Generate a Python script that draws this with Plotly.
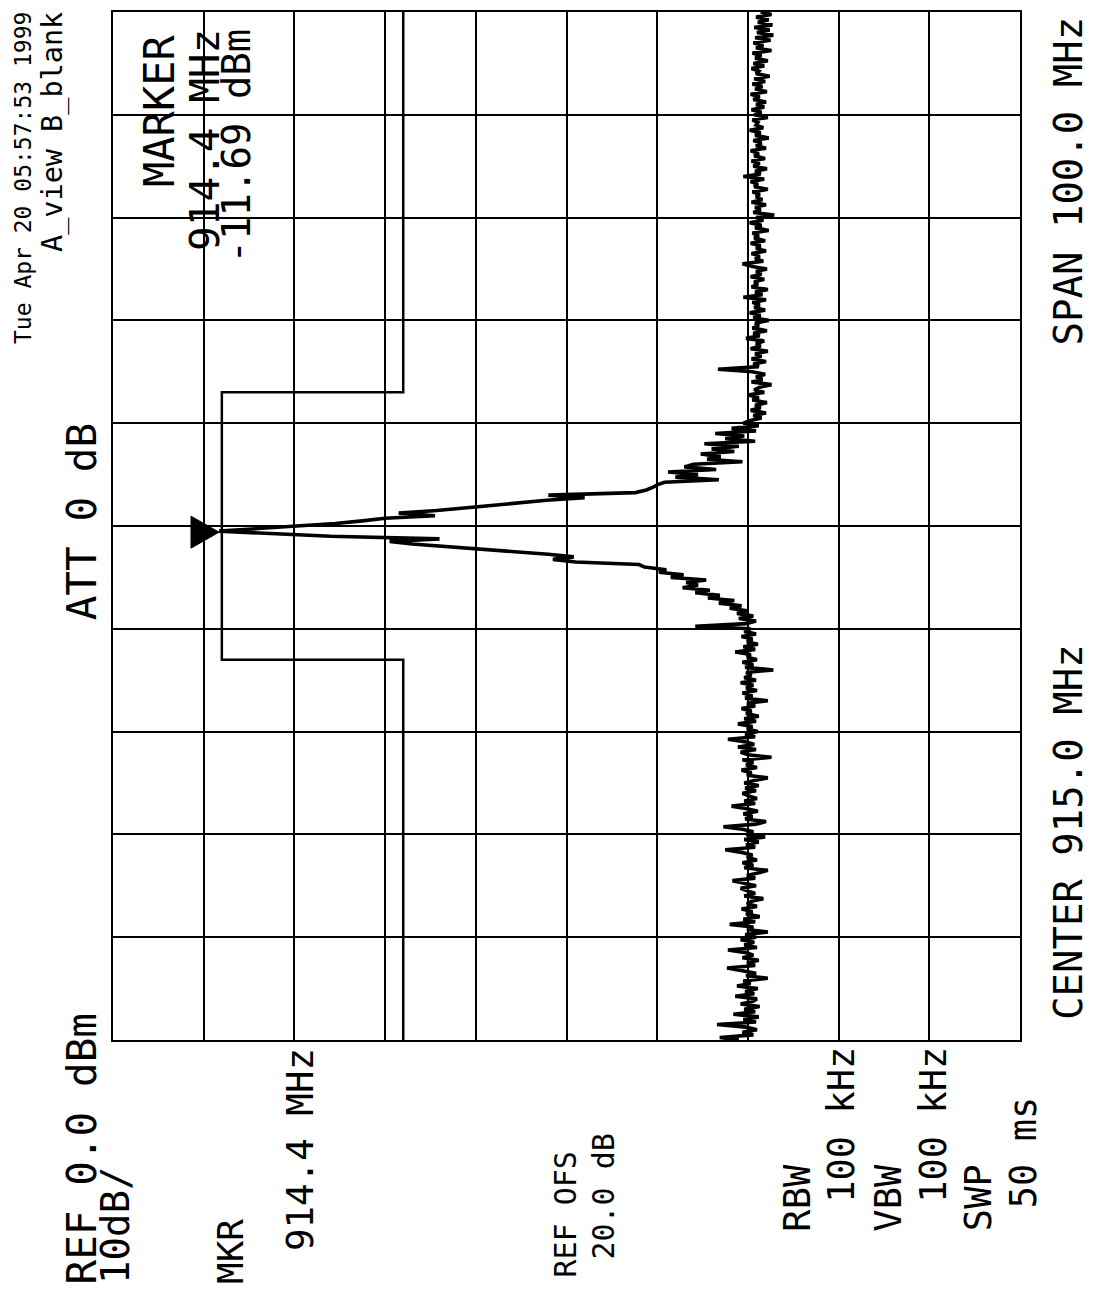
import numpy as np
import plotly.graph_objects as go

# ---------------- data ----------------
start_freq_mhz = 865.0
stop_freq_mhz = 965.0
center_freq_mhz = 915.0
ref_level_dbm = 0.0
bottom_level_dbm = -100.0

# trace amplitude (dBm), sweep points from 865 MHz to 965 MHz
trace_dbm = [
    # lower noise floor
    -69.0, -66.9, -70.6, -69.4, -71.0, -69.8, -66.6, -70.9, -69.5, -71.2,
    -68.4, -70.8, -69.6, -71.3, -69.2, -70.5, -71.0, -68.6, -70.7, -69.7,
    -71.1, -68.8, -70.3, -69.5, -72.2, -69.8, -70.9, -69.3, -67.7, -70.8,
    -69.9, -71.2, -69.4, -70.6, -69.8, -67.8, -71.0, -69.6, -70.7, -69.2,
    -70.9, -69.7, -72.2, -69.9, -70.6, -68.0, -70.8, -69.5, -71.3, -69.8,
    -70.5, -69.3, -71.0, -69.9, -70.4, -71.7, -69.6, -70.8, -70.0, -69.2,
    -70.9, -69.7, -68.3, -70.8, -69.9, -71.1, -72.2, -69.6, -70.6, -69.4,
    -71.0, -69.9, -70.5, -69.3, -67.5, -70.8, -69.8, -71.2, -69.6, -71.9,
    -69.8, -70.6, -69.4, -67.3, -70.9, -72.0, -69.7, -70.5, -69.5, -71.1,
    -69.9, -68.2, -70.8, -69.6, -71.0, -70.1, -69.4, -70.9, -69.7, -71.2,
    -69.6, -70.7, -72.2, -69.9, -70.4, -69.3, -71.0, -69.8, -70.6, -69.4,
    -72.6, -70.0, -69.2, -70.9, -68.9, -70.7, -69.8, -67.8, -70.8, -69.7,
    -71.1, -69.9, -70.5, -68.9, -70.9, -69.6, -71.2, -69.8, -70.4, -69.3,
    -70.8, -69.9, -72.2, -69.7, -70.5, -69.4, -71.0, -69.8, -70.6, -69.2,
    -70.9, -69.6, -70.4, -69.8, -72.8, -69.7, -70.6, -69.4, -71.0, -69.9,
    -70.3, -68.6, -70.8, -69.5, -71.1, -69.9, -70.5, -69.3, -70.9, -69.6,
    # lower skirt
    -70.3, -64.2, -69.8, -70.9, -69.0, -70.6, -68.8, -69.9, -68.0, -69.3,
    -66.8, -68.5, -65.6, -66.9, -64.2, -65.8, -62.8, -64.5, -63.2, -65.4,
    -61.5, -62.9, -60.2, -61.0, -58.6, -58.0, -51.0, -48.5, -50.8, -48.0,
    -44.0, -40.5, -36.2, -33.0, -30.5, -36.0, -24.0, -17.5, -11.7,
    # upper skirt
    -16.0, -20.5, -24.5, -27.5, -30.0, -35.5, -31.5, -35.7, -38.5, -41.5,
    -44.5, -47.8, -52.0, -48.0, -57.6, -58.8, -59.5, -60.0, -60.8, -66.8,
    -62.0, -64.5, -61.2, -66.5, -63.0, -64.0, -69.4, -65.5, -67.0, -64.8,
    -68.5, -66.0, -69.0, -65.2, -70.8, -67.5, -69.6, -66.4, -70.9, -68.2,
    -71.2, -69.5,
    # upper noise floor
    -70.2, -71.5, -70.6, -72.0, -70.3, -71.4, -70.8, -72.1, -70.5, -71.2,
    -70.0, -71.8, -70.7, -71.3, -72.6, -70.4, -71.6, -70.9, -71.9, -70.5,
    -66.7, -71.2, -70.6, -72.0, -70.4, -71.5, -70.8, -72.2, -70.3, -71.4,
    -70.9, -71.8, -69.8, -71.3, -70.6, -72.1, -70.5, -71.2, -70.8, -72.3,
    -70.6, -71.4, -70.2, -71.9, -70.7, -71.3, -70.5, -72.0, -69.5, -71.6,
    -70.8, -72.2, -70.4, -71.1, -70.7, -71.8, -70.3, -71.5, -70.9, -72.1,
    -70.5, -69.4, -71.7, -70.8, -71.3, -70.4, -72.0, -70.9, -71.4, -70.3,
    -71.9, -70.7, -71.2, -70.5, -72.3, -70.8, -71.5, -70.2, -71.7, -70.9,
    -72.9, -70.6, -71.4, -70.8, -72.0, -70.4, -71.6, -70.9, -71.3, -70.5,
    -72.2, -70.7, -71.1, -70.3, -71.8, -69.5, -71.4, -70.8, -72.1, -70.6,
    -71.3, -70.4, -71.9, -70.7, -71.2, -70.3, -72.0, -70.9, -71.5, -70.6,
    -72.3, -70.8, -71.4, -70.2, -71.7, -70.9, -71.1, -70.5, -72.2, -70.7,
    -71.5, -70.4, -71.8, -70.9, -72.0, -70.6, -71.3, -70.3, -72.1, -70.8,
    -71.6, -70.5, -71.9, -70.7, -72.4, -70.9, -71.2, -70.4, -71.8, -70.6,
    -72.2, -70.8, -71.5, -70.5, -72.6, -70.9, -71.7, -70.6, -72.5, -70.8,
    -72.8, -71.0, -72.4, -70.7, -72.7, -71.1, -72.3, -70.9, -72.6, -71.4,
]

# limit mask (ISM band 902-928 MHz)
mask_freq_mhz = [865.0, 902.0, 902.0, 928.0, 928.0, 965.0]
mask_level_dbm = [-32.0, -32.0, -12.0, -12.0, -32.0, -32.0]

marker_freq_mhz = 914.4
marker_level_dbm = -11.69

trace_freq_mhz = np.linspace(start_freq_mhz, stop_freq_mhz, len(trace_dbm))

# ---------------- figure ----------------
# page body has an 8 px margin; plot area sits at x 113..1020, y 10..1040 on screen
BODY = 8
PLOT_L, PLOT_T, PLOT_W, PLOT_H = 113, 10, 907, 1030
L, T = PLOT_L - BODY, PLOT_T - BODY
R, B = 82, 250
W, H = L + PLOT_W + R, T + PLOT_H + B


def px(x):
    return (x - PLOT_L) / PLOT_W


def py(y):
    return (PLOT_T + PLOT_H - y) / PLOT_H


fig = go.Figure()

fig.add_trace(go.Scatter(
    x=mask_level_dbm, y=mask_freq_mhz, mode="lines",
    line=dict(color="black", width=2.5), hoverinfo="skip"))

fig.add_trace(go.Scatter(
    x=trace_dbm, y=trace_freq_mhz, mode="lines",
    line=dict(color="black", width=3.6), hoverinfo="skip"))

# marker triangle: tip at the marker point
fig.add_shape(
    type="path", xref="x", yref="y",
    xsizemode="pixel", ysizemode="pixel",
    xanchor=marker_level_dbm, yanchor=marker_freq_mhz,
    path="M -28 -16 L 0 0 L -28 16 Z",
    fillcolor="black", line=dict(color="black", width=1))

axis_common = dict(showgrid=True, gridcolor="black", gridwidth=1.8,
                   showline=True, linecolor="black", linewidth=2.2, mirror=True,
                   showticklabels=False, ticks="", zeroline=False)

fig.update_xaxes(range=[ref_level_dbm, bottom_level_dbm], dtick=10, tick0=0, **axis_common)
fig.update_yaxes(range=[start_freq_mhz, stop_freq_mhz], dtick=10, tick0=start_freq_mhz, **axis_common)

FONT = "DejaVu Sans Mono"


def ann(text, xc, yp, anchor, size):
    fig.add_annotation(
        text=text, xref="paper", yref="paper", x=px(xc), y=py(yp),
        xanchor="center", yanchor=anchor, showarrow=False, textangle=-90,
        font=dict(family=FONT, size=size, color="black"), borderpad=0)


ann("Tue Apr 20 05:57:53 1999", 23, 9, "top", 23)
ann("A_view B_blank", 53, 9, "top", 28.5)
ann("ATT 0 dB", 82, 621, "bottom", 41)
ann("REF 0.0 dBm", 82, 1286, "bottom", 41)
ann("10dB/", 115, 1286, "bottom", 39)
ann("MKR", 230, 1286, "bottom", 36)
ann("914.4 MHz", 300, 1253, "bottom", 37.5)
ann("REF OFS", 566, 1279, "bottom", 30)
ann("20.0 dB", 604, 1261, "bottom", 30)
ann("RBW", 798, 1233, "bottom", 37)
ann("100 kHz", 842, 1204, "bottom", 37)
ann("VBW", 889, 1233, "bottom", 37)
ann("100 kHz", 934, 1204, "bottom", 37)
ann("SWP", 978, 1233, "bottom", 37)
ann("50 ms", 1023, 1209, "bottom", 37)
ann("CENTER 915.0 MHz", 1068, 1021, "bottom", 39)
ann("SPAN 100.0 MHz", 1068, 14, "top", 39)
ann("MARKER", 160, 32, "top", 42)
ann("914.4 MHz", 205, 26, "top", 41)
ann("-11.69 dBm", 236, 26, "top", 39)

fig.update_layout(width=W, height=H, margin=dict(l=L, r=R, t=T, b=B),
                  plot_bgcolor="white", paper_bgcolor="white", showlegend=False)

fig.write_html("out.html")
